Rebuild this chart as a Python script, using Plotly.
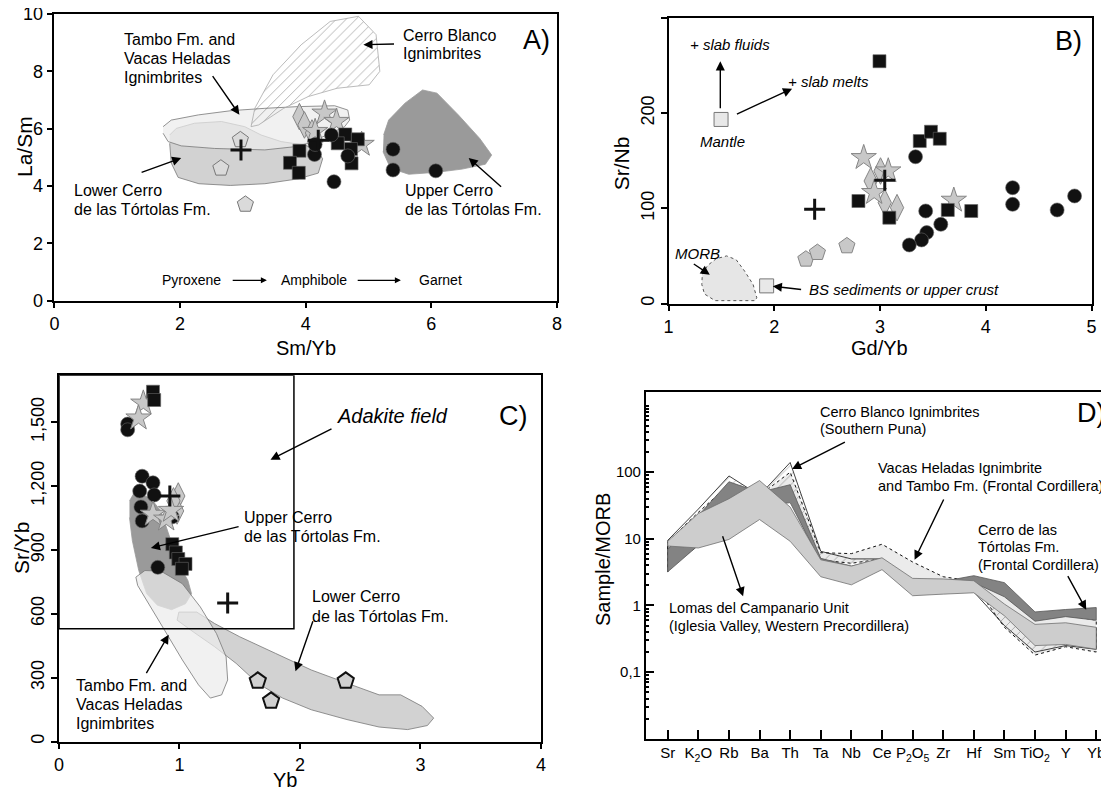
import plotly.graph_objects as go

W, H = 1109, 789
FONT = "Liberation Sans, Arial, sans-serif"

# ---------------- Panel A data (Sm/Yb vs La/Sm) ----------------
A_circle_x = [4.41, 4.14, 4.15, 4.67, 4.45, 5.39, 5.39, 6.07]
A_circle_y = [5.78, 5.10, 5.45, 5.05, 4.15, 5.28, 4.56, 4.53]
A_square_x = [3.90, 3.75, 3.89, 4.63, 4.51, 4.83, 4.73, 4.72]
A_square_y = [5.23, 4.81, 4.46, 5.80, 5.49, 5.63, 4.79, 5.29]
A_star_x = [4.30, 4.49, 4.15, 4.89]
A_star_y = [6.54, 6.25, 5.90, 5.45]
A_diamond_x = [3.90, 3.98, 4.10]
A_diamond_y = [6.42, 6.13, 5.85]
A_pent_x = [2.96, 2.65, 3.04]
A_pent_y = [5.61, 4.62, 3.36]
A_cross_x = [2.97, 4.20]
A_cross_y = [5.26, 5.60]

A_lower_field_x = [1.835, 1.86, 1.97, 2.30, 2.80, 3.35, 3.88, 4.20, 4.27, 4.17, 3.98, 3.61, 3.29, 3.03, 2.66, 2.23, 1.94, 1.835]
A_lower_field_y = [5.49, 4.80, 4.30, 4.08, 4.02, 4.08, 4.25, 4.45, 4.95, 5.28, 5.43, 5.55, 5.78, 6.07, 6.25, 6.19, 6.01, 5.78]
A_tambo_field_x = [1.73, 1.86, 2.29, 2.82, 3.35, 3.88, 4.46, 4.67, 4.70, 4.62, 4.46, 4.04, 3.82, 3.35, 2.55, 2.02, 1.81, 1.73]
A_tambo_field_y = [6.07, 6.30, 6.48, 6.63, 6.71, 6.77, 6.80, 6.65, 6.30, 6.07, 5.90, 5.49, 5.37, 5.26, 5.31, 5.40, 5.55, 5.84]
A_blanco_field_x = [3.13, 3.19, 3.48, 3.93, 4.39, 4.84, 5.12, 5.18, 5.01, 4.50, 4.04, 3.65, 3.25, 3.13]
A_blanco_field_y = [6.07, 6.71, 7.88, 8.93, 9.74, 9.92, 9.28, 8.00, 7.53, 7.41, 7.12, 6.71, 6.13, 6.07]
A_upper_field_x = [5.24, 5.32, 5.58, 5.86, 6.09, 6.43, 6.77, 6.96, 6.86, 6.49, 6.09, 5.64, 5.35, 5.23]
A_upper_field_y = [5.78, 6.30, 6.89, 7.35, 7.24, 6.48, 5.66, 5.08, 4.76, 4.59, 4.48, 4.41, 4.62, 5.20]

# ---------------- Panel B data (Gd/Yb vs Sr/Nb) ----------------
B_square_x = [2.995, 2.796, 3.088, 3.376, 3.482, 3.565, 3.641, 3.863]
B_square_y = [254.6, 107.7, 90.2, 170.7, 180.5, 173.1, 98.3, 97.2]
B_circle_x = [3.336, 3.432, 3.575, 3.442, 3.393, 3.277, 4.254, 4.254, 4.840, 4.675]
B_circle_y = [154.2, 97.2, 83.2, 74.5, 66.8, 61.5, 121.7, 104.2, 113.0, 98.3]
B_star_x = [2.846, 3.078, 2.945, 3.698]
B_star_y = [153.2, 139.2, 116.5, 108.4]
B_diamond_x = [3.005, 2.912, 3.045, 3.161]
B_diamond_y = [139.2, 128.7, 106.0, 100.7]
B_cross_x = [2.382, 3.045]
B_cross_y = [99.0, 129.4]
B_pent_x = [2.299, 2.408, 2.687]
B_pent_y = [46.5, 53.5, 60.5]
B_ref_x = [1.497, 1.928]          # Mantle, BS sediments
B_ref_y = [193.4, 18.5]
B_morb_x = [1.32, 1.37, 1.45, 1.55, 1.64, 1.72, 1.80, 1.835, 1.82, 1.44, 1.34, 1.315, 1.32]
B_morb_y = [31, 40, 47, 50, 46, 34, 20, 6, 3, 3, 10, 20, 31]

# ---------------- Panel C data (Yb vs Sr/Yb) ----------------
C_square_x = [0.78, 0.79, 0.94, 0.97, 0.99, 1.05, 1.02]
C_square_y = [1643, 1604, 927, 888, 857, 834, 811]
C_star_x = [0.70, 0.66, 0.78, 0.89, 0.93]
C_star_y = [1589, 1519, 1067, 1044, 1085]
C_circle_x = [0.57, 0.57, 0.69, 0.67, 0.78, 0.79, 0.68, 0.69, 0.94, 0.82]
C_circle_y = [1491, 1464, 1246, 1176, 1215, 1158, 1102, 1036, 1055, 818]
C_cross_x = [0.92, 1.40]
C_cross_y = [1153, 650]
C_diamond_x = [0.99, 0.98, 0.95]
C_diamond_y = [1153, 1083, 1130]
C_pent_x = [1.65, 1.76, 2.38]
C_pent_y = [285, 191, 285]
ADAKITE_YB_MAX = 1.95
ADAKITE_SRYB_MIN = 530
C_YMAX = 1720

C_upper_field_x = [0.585, 0.624, 0.757, 0.846, 0.92, 0.995, 1.07, 1.10, 1.05, 0.935, 0.817, 0.728, 0.662, 0.609, 0.585]
C_upper_field_y = [1130, 1168, 1145, 1083, 958, 834, 756, 694, 647, 619, 640, 694, 803, 943, 1052]
C_tambo_field_x = [0.638, 0.713, 0.846, 1.024, 1.173, 1.307, 1.387, 1.40, 1.35, 1.256, 1.158, 1.024, 0.876, 0.742, 0.653, 0.638]
C_tambo_field_y = [772, 803, 800, 741, 632, 507, 398, 289, 219, 204, 266, 383, 523, 647, 733, 772]
C_lower_field_x = [0.995, 1.143, 1.292, 1.50, 1.797, 2.094, 2.39, 2.657, 2.836, 3.014, 3.11, 3.058, 2.894, 2.657, 2.39, 2.094, 1.856, 1.648, 1.47, 1.292, 1.114, 0.98, 0.995]
C_lower_field_y = [608, 608, 554, 492, 414, 336, 274, 219, 219, 165, 110, 75, 56, 68, 103, 149, 204, 274, 367, 445, 515, 570, 608]

# ---------------- Panel D data (Sample/MORB spider diagram) ----------------
D_elements = ["Sr", "K<sub>2</sub>O", "Rb", "Ba", "Th", "Ta", "Nb", "Ce",
              "P<sub>2</sub>O<sub>5</sub>", "Zr", "Hf", "Sm", "TiO<sub>2</sub>", "Y", "Yb"]
D_blanco_upper = [9.5, 28, 88, 45, 140, 6.5, 5.0, 5.0, 2.4, 2.4, 2.2, 1.0, 0.50, 0.50, 0.45]
D_blanco_lower = [3.2, 22, 50, 35, 50, 4.0, 3.8, 3.6, 1.5, 1.6, 1.6, 0.50, 0.20, 0.25, 0.22]
D_vacas_upper = [9.0, 25, 65, 45, 100, 6.2, 6.0, 8.3, 4.5, 2.7, 2.3, 1.4, 0.60, 0.72, 0.60]
D_vacas_lower = [3.5, 8, 40, 35, 50, 4.8, 4.3, 5.0, 2.4, 2.3, 2.1, 0.47, 0.18, 0.24, 0.20]
D_tortolas_upper = [6.9, 22, 72, 50, 65, 5.1, 3.9, 5.0, 2.4, 2.3, 2.8, 2.2, 0.80, 0.87, 0.93]
D_tortolas_lower = [3.2, 8, 38, 30, 35, 4.5, 3.0, 4.5, 2.0, 2.0, 2.2, 1.35, 0.58, 0.68, 0.60]
D_lomas_upper = [9.2, 24, 40, 75, 30, 4.85, 3.9, 5.2, 2.55, 2.5, 2.35, 1.05, 0.52, 0.55, 0.47]
D_lomas_lower = [7.8, 7.3, 9.8, 19.5, 9.2, 2.7, 2.04, 3.45, 1.4, 1.48, 1.55, 0.70, 0.25, 0.26, 0.22]

# ---------------- layout helpers (reference pixels -> paper) ----------------
def px(x):
    return x / W

def py(y):
    return 1 - y / H

def dom_x(a, b):
    return [px(a), px(b)]

def dom_y(top, bottom):
    return [py(bottom), py(top)]

fig = go.Figure()

def band(xref, yref, xs, ys, fill, line_color, line_width=0.8, dash="solid", pattern=None):
    kw = {}
    if pattern:
        kw["fillpattern"] = pattern
    fig.add_trace(go.Scatter(x=xs, y=ys, xaxis=xref, yaxis=yref, mode="lines", fill="toself",
                             fillcolor=fill, line=dict(color=line_color, width=line_width, dash=dash),
                             hoverinfo="skip", showlegend=False, **kw))

def pts(xref, yref, xs, ys, symbol, size, color, lcolor, lwidth):
    fig.add_trace(go.Scatter(x=xs, y=ys, xaxis=xref, yaxis=yref, mode="markers",
                             marker=dict(symbol=symbol, size=size, color=color,
                                         line=dict(color=lcolor, width=lwidth)),
                             showlegend=False))

HATCH = dict(shape="/", fgcolor="#555555", bgcolor="rgba(255,255,255,0)", size=7, solidity=0.12)
TAMBO_FILL = "rgba(236,236,236,0.72)"

# Panel A fields
band("x", "y", A_lower_field_x, A_lower_field_y, "#d2d2d2", "#777777")
band("x", "y", A_tambo_field_x, A_tambo_field_y, TAMBO_FILL, "#777777")
band("x", "y", A_blanco_field_x, A_blanco_field_y, "rgba(0,0,0,0)", "#aaaaaa", pattern=HATCH)
band("x", "y", A_upper_field_x, A_upper_field_y, "#9a9a9a", "#9a9a9a")

# Panel B fields
band("x2", "y2", B_morb_x, B_morb_y, "#e6e6e6", "#555555", 1, "dot")

# Panel C fields
band("x3", "y3", C_lower_field_x, C_lower_field_y, "#d2d2d2", "#777777")
band("x3", "y3", C_upper_field_x, C_upper_field_y, "#9a9a9a", "#9a9a9a")
band("x3", "y3", C_tambo_field_x, C_tambo_field_y, TAMBO_FILL, "#777777")

# Panel D bands
idx = list(range(len(D_elements)))
def spider(upper, lower, fill, lc, lw=0.8, dash="solid", pattern=None):
    xs = idx + idx[::-1] + [idx[0]]
    ys = upper + lower[::-1] + [upper[0]]
    band("x4", "y4", xs, ys, fill, lc, lw, dash, pattern)

spider(D_vacas_upper, D_vacas_lower, "#ebebeb", "#111111", 1, "dot")
spider(D_blanco_upper, D_blanco_lower, "rgba(0,0,0,0)", "#111111", 0.8, "solid", HATCH)
spider(D_tortolas_upper, D_tortolas_lower, "#838383", "#555555")
spider(D_lomas_upper, D_lomas_lower, "#cdcdcd", "#707070")

# markers
GRAY = "#c8c8c8"
GL = "#858585"
# A
pts("x", "y", A_pent_x, A_pent_y, "pentagon", 17, "#dadada", "#777777", 1)
pts("x", "y", A_diamond_x, A_diamond_y, "diamond-tall", 19, GRAY, GL, 1)
pts("x", "y", A_star_x, A_star_y, "star", 19, GRAY, GL, 1)
pts("x", "y", A_square_x, A_square_y, "square", 13, "#111111", "#666666", 0.6)
pts("x", "y", A_circle_x, A_circle_y, "circle", 14, "#111111", "#666666", 0.6)
pts("x", "y", A_cross_x, A_cross_y, "cross-thin", 15, "#111111", "#111111", 3)
# B
pts("x2", "y2", B_ref_x, B_ref_y, "square", 14, "#e8e8e8", "#777777", 1)
pts("x2", "y2", B_pent_x, B_pent_y, "pentagon", 17, GRAY, GL, 1)
pts("x2", "y2", B_diamond_x, B_diamond_y, "diamond-tall", 19, GRAY, GL, 1)
pts("x2", "y2", B_star_x, B_star_y, "star", 19, GRAY, GL, 1)
pts("x2", "y2", B_square_x, B_square_y, "square", 13, "#111111", "#666666", 0.6)
pts("x2", "y2", B_circle_x, B_circle_y, "circle", 14, "#111111", "#666666", 0.6)
pts("x2", "y2", B_cross_x, B_cross_y, "cross-thin", 15, "#111111", "#111111", 3)
# C
pts("x3", "y3", C_pent_x, C_pent_y, "pentagon", 17, "#d0d0d0", "#111111", 2)
pts("x3", "y3", C_diamond_x, C_diamond_y, "diamond-tall", 19, GRAY, GL, 1)
pts("x3", "y3", C_circle_x, C_circle_y, "circle", 14, "#111111", "#666666", 0.6)
pts("x3", "y3", C_star_x, C_star_y, "star", 19, GRAY, GL, 1)
pts("x3", "y3", C_square_x, C_square_y, "square", 13, "#111111", "#666666", 0.6)
pts("x3", "y3", C_cross_x, C_cross_y, "cross-thin", 15, "#111111", "#111111", 3)

# ---------------- axes ----------------
def ax(domain, rng, tickvals, ticktext=None, size=18, ticks="outside", ticklen=6, angle=0, **extra):
    d = dict(domain=domain, range=rng, tickvals=tickvals, ticks=ticks, ticklen=ticklen,
             tickwidth=1.5, tickcolor="black", showline=True, linecolor="black", linewidth=1.5,
             mirror=True, showgrid=False, zeroline=False, tickangle=angle, automargin=False,
             tickfont=dict(size=size, family=FONT, color="black"))
    if ticktext is not None:
        d["ticktext"] = ticktext
    d.update(extra)
    return d

layout = dict(
    width=W, height=H, margin=dict(l=0, r=0, t=0, b=0, pad=0, autoexpand=False),
    paper_bgcolor="white", plot_bgcolor="white",
    font=dict(family=FONT, color="black"),
    showlegend=False,
    xaxis=ax(dom_x(46.4, 549), [0, 8], [0, 2, 4, 6, 8], anchor="y"),
    yaxis=ax(dom_y(6, 292.7), [0, 10], [0, 2, 4, 6, 8, 10], anchor="x"),
    xaxis2=ax(dom_x(660.5, 1083.5), [1, 5], [1, 2, 3, 4, 5], anchor="y2"),
    yaxis2=ax(dom_y(10, 295.5), [0, 300], [0, 100, 200, 300], angle=-90, anchor="x2"),
    xaxis3=ax(dom_x(51, 532.9), [0, 4], [0, 1, 2, 3, 4], anchor="y3"),
    yaxis3=ax(dom_y(367.3, 733.5), [0, C_YMAX], [0, 300, 600, 900, 1200, 1500],
              ["0", "300", "600", "900", "1,200", "1,500"], angle=-90, anchor="x3"),
    xaxis4=ax(dom_x(637.7, 1106), [-0.72, 14.58], idx, D_elements, size=15,
              ticks="inside", ticklen=9, anchor="y4"),
    yaxis4=ax(dom_y(384.3, 730.7), [-2, 3.2], [0.1, 1, 10, 100], ["0,1", "1", "10", "100"],
              size=15, ticks="inside", ticklen=9, type="log", anchor="x4",
              minor=dict(ticks="inside", ticklen=4, tickcolor="black", dtick="D1", showgrid=False)),
)
layout["yaxis4"]["mirror"] = "ticks"
fig.update_layout(**layout)

fig.add_shape(type="rect", xref="x3", yref="y3", x0=0, x1=ADAKITE_YB_MAX, y0=ADAKITE_SRYB_MIN,
              y1=C_YMAX, line=dict(color="black", width=1.5), fillcolor="rgba(0,0,0,0)")

# ---------------- text helpers ----------------
anns = []

def txt(lines, x, ys, size, italic=False, anchor="left", angle=0):
    if isinstance(lines, str):
        lines = [lines]
        ys = [ys]
    for line, y in zip(lines, ys):
        t = f"<i>{line}</i>" if italic else line
        anns.append(dict(text=t, x=px(x), y=py(y), xref="paper", yref="paper",
                         xanchor=anchor, yanchor="middle", showarrow=False, textangle=angle,
                         font=dict(size=size, family=FONT, color="black")))

def arrow(x0, y0, x1, y1, size=1.3, width=1.4):
    anns.append(dict(text="", x=px(x1), y=py(y1), xref="paper", yref="paper",
                     ax=x0 - x1, ay=y0 - y1, axref="pixel", ayref="pixel", showarrow=True,
                     arrowhead=2, arrowsize=size, arrowwidth=width, arrowcolor="black", standoff=0))

# Panel A text
txt(["Tambo Fm. and", "Vacas Heladas", "Ignimbrites"], 113.6, [31.7, 50.7, 69.3], 16)
arrow(203.6, 66.7, 231.4, 106.7)
txt(["Cerro Blanco", "Ignimbrites"], 392.9, [27.7, 46.0], 16)
arrow(387.5, 36, 355.4, 36.7)
txt("A)", 528.6, 32.3, 27, anchor="center")
txt(["Lower Cerro", "de las Tórtolas Fm."], 64.3, [182.3, 201.7], 16)
arrow(132.1, 165, 173.2, 150)
txt(["Upper Cerro", "de las Tórtolas Fm."], 394.6, [182.3, 201.7], 16)
arrow(494.6, 180, 460.7, 150)
txt("Pyroxene", 151.8, 272.3, 14)
arrow(223.2, 272.3, 258.9, 272.3, size=1.0, width=1.2)
txt("Amphibole", 271.4, 272.3, 14)
arrow(348.2, 272.3, 392.9, 272.3, size=1.0, width=1.2)
txt("Garnet", 408.9, 272.3, 14)
txt("La/Sm", 16, 139, 21, anchor="center", angle=-90)
txt("Sm/Yb", 297.7, 340, 20, anchor="center")

# Panel B text
txt("+ slab fluids", 680.1, 36.7, 15, italic=True)
arrow(712.3, 101.7, 712.3, 53.3)
txt("+ slab melts", 777.8, 73.3, 15, italic=True)
arrow(727.4, 106.7, 784.1, 80.7)
txt("Mantle", 714.1, 133.3, 15, italic=True, anchor="center")
txt("MORB", 689.6, 245.7, 15, italic=True, anchor="center")
arrow(684.3, 255, 701.8, 266.7)
txt("BS sediments or upper crust", 799.1, 281.7, 15, italic=True)
arrow(794.6, 281.7, 764.8, 278.3)
txt("B)", 1060.7, 33.3, 27, anchor="center")
txt("Sr/Nb", 614.3, 155, 21, anchor="center", angle=-90)
txt("Gd/Yb", 871.6, 340, 20, anchor="center")

# Panel C text
txt("Adakite field", 326.8, 408.3, 20, italic=True)
arrow(325, 420, 262.5, 451.7)
txt("C)", 505.4, 408.3, 27, anchor="center")
txt(["Upper Cerro", "de las Tórtolas Fm."], 233.9, [509, 528.3], 16)
arrow(232.1, 518.3, 142.9, 540)
txt(["Lower Cerro", "de las Tórtolas Fm."], 301.8, [588.3, 608.3], 16)
arrow(305.4, 611.7, 287.5, 663.3)
txt(["Tambo Fm. and", "Vacas Heladas", "Ignimbrites"], 66.1, [677.7, 696.7, 715.7], 16)
arrow(137.5, 666.7, 160.7, 626.7)
txt("Sr/Yb", 13, 540, 21, anchor="center", angle=-90)
txt("Yb", 276.8, 772, 20, anchor="center")

# Panel D text
txt(["Cerro Blanco Ignimbrites", "(Southern Puna)"], 810.4, [404.3, 421.0], 14.5)
arrow(838.4, 433.3, 784.1, 461)
txt(["Vacas Heladas Ignimbrite", "and Tambo Fm. (Frontal Cordillera)"], 868.1, [460.0, 478.3], 14.5)
arrow(936.4, 490, 906.6, 551.7)
txt(["Cerro de las", "Tórtolas Fm.", "(Frontal Cordillera)"], 967.9, [521.7, 539.3, 556.7], 14.5)
arrow(1059, 566.7, 1078.2, 601.7)
txt(["Lomas del Campanario Unit", "(Iglesia Valley, Western Precordillera)"], 659.1, [600.0, 617.7], 14.5)
arrow(714.1, 526.7, 735.1, 588.3)
txt("D)", 1083.5, 405, 27, anchor="center")
txt("Sample/MORB", 595, 552, 20, anchor="center", angle=-90)

fig.update_layout(annotations=anns)
fig.write_html("out.html")
